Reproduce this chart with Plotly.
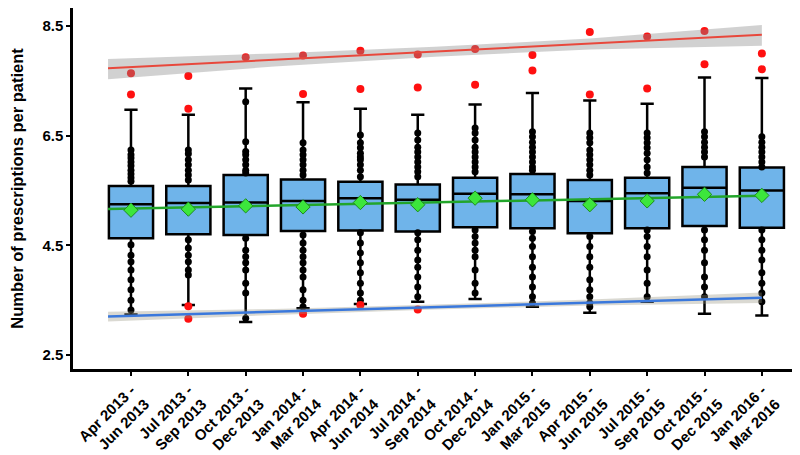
import plotly.graph_objects as go

# ---- data ----
period_start = ["Apr 2013", "Jul 2013", "Oct 2013", "Jan 2014", "Apr 2014", "Jul 2014",
                "Oct 2014", "Jan 2015", "Apr 2015", "Jul 2015", "Oct 2015", "Jan 2016"]
period_end = ["Jun 2013", "Sep 2013", "Dec 2013", "Mar 2014", "Jun 2014", "Sep 2014",
              "Dec 2014", "Mar 2015", "Jun 2015", "Sep 2015", "Dec 2015", "Mar 2016"]

q1 = [4.63, 4.70, 4.69, 4.76, 4.77, 4.75, 4.83, 4.81, 4.72, 4.81, 4.85, 4.82]
median = [5.25, 5.27, 5.28, 5.31, 5.36, 5.33, 5.44, 5.43, 5.31, 5.45, 5.55, 5.50]
q3 = [5.58, 5.58, 5.78, 5.70, 5.66, 5.61, 5.73, 5.80, 5.69, 5.73, 5.93, 5.92]
lower_whisker = [3.24, 3.41, 3.10, 3.35, 3.43, 3.47, 3.52, 3.38, 3.27, 3.47, 3.25, 3.22]
upper_whisker = [6.97, 6.88, 7.36, 7.11, 6.99, 6.88, 7.07, 7.28, 7.14, 7.08, 7.56, 7.55]
means = [5.14, 5.16, 5.22, 5.20, 5.28, 5.24, 5.36, 5.33, 5.24, 5.31, 5.43, 5.41]

upper_outliers = [[7.64, 7.25], [7.59, 6.99], [7.93], [7.96, 7.26], [8.05, 7.35], [7.98, 7.38],
                  [8.08, 7.43], [7.97, 7.69], [8.39, 7.25], [8.31, 7.36], [8.41, 7.80], [8.00, 7.71]]
lower_outliers = [[], [3.39, 3.16], [], [3.25], [3.41], [3.33], [], [], [], [], [], []]

upper_points = [
    [6.24, 6.15, 6.09, 6.02, 5.95, 5.87, 5.80, 5.73, 5.67],
    [6.24, 6.17, 6.06, 5.97, 5.87, 5.78, 5.69],
    [7.12, 6.39, 6.21, 6.15, 6.06, 5.97, 5.87, 5.82],
    [6.37, 6.24, 6.15, 6.06, 5.97, 5.87, 5.78],
    [6.51, 6.37, 6.28, 6.18, 6.11, 6.06, 5.97, 5.87, 5.75],
    [6.55, 6.42, 6.29, 6.20, 6.11, 6.02, 5.93, 5.84, 5.75],
    [6.64, 6.55, 6.42, 6.29, 6.20, 6.11, 6.02, 5.93, 5.84],
    [6.57, 6.48, 6.38, 6.29, 6.20, 6.11, 6.02, 5.93, 5.87],
    [6.55, 6.46, 6.37, 6.24, 6.15, 6.06, 5.97, 5.87, 5.78],
    [6.55, 6.46, 6.37, 6.28, 6.18, 6.06, 5.93, 5.82],
    [6.57, 6.48, 6.38, 6.29, 6.20, 6.11],
    [6.48, 6.38, 6.29, 6.20, 6.11, 6.02, 5.93],
]
lower_points = [
    [4.51, 4.32, 4.20, 4.05, 3.87, 3.69, 3.50, 3.32],
    [4.60, 4.45, 4.32, 4.20, 4.05, 3.96],
    [4.63, 4.41, 4.29, 4.18, 4.05, 3.81, 3.63, 3.17],
    [4.69, 4.54, 4.41, 4.29, 4.18, 4.05, 3.92, 3.69, 3.50, 3.38],
    [4.73, 4.54, 4.36, 4.18, 4.00, 3.81, 3.63, 3.50],
    [4.73, 4.60, 4.41, 4.23, 4.10, 3.92, 3.74, 3.56],
    [4.78, 4.66, 4.54, 4.41, 4.29, 4.05, 3.81, 3.63],
    [4.75, 4.63, 4.48, 4.29, 4.10, 3.92, 3.74, 3.56, 3.45],
    [4.66, 4.48, 4.29, 4.10, 3.87, 3.69, 3.56, 3.45, 3.38],
    [4.78, 4.66, 4.48, 4.29, 4.05, 3.81, 3.56],
    [4.78, 4.60, 4.41, 4.18, 3.92, 3.74, 3.56],
    [4.78, 4.60, 4.41, 4.23, 4.00, 3.81, 3.63, 3.47],
]

# trend lines (end points) and confidence bands
trend_x = [-0.4, 11.0]
upper_trend = [7.73, 8.34]
mean_trend = [5.16, 5.405]
lower_trend = [3.20, 3.545]
band_x = [-0.4, 2.5, 5.3, 8.0, 11.0]
upper_band_hi = [7.90, 8.00, 8.12, 8.27, 8.52]
upper_band_lo = [7.53, 7.76, 7.94, 8.07, 8.14]
lower_band_hi = [3.29, 3.34, 3.42, 3.51, 3.64]
lower_band_lo = [3.11, 3.23, 3.33, 3.40, 3.45]

# ---- figure ----
n = len(period_start)
xs = list(range(n))
labels = [f"{a} -<br>{b}" for a, b in zip(period_start, period_end)]

fig = go.Figure()

# boxes (box layer is always drawn beneath scatter layers)
fig.add_trace(go.Box(x=xs, q1=q1, median=median, q3=q3,
                     lowerfence=lower_whisker, upperfence=upper_whisker,
                     width=0.77, whiskerwidth=0.3,
                     fillcolor="#6FB4EA", line=dict(color="black", width=2.5),
                     boxpoints=False, hoverinfo="skip"))

# raw points (black)
px, py = [], []
for i in xs:
    for v in upper_points[i] + lower_points[i]:
        px.append(i)
        py.append(v)
fig.add_trace(go.Scatter(x=px, y=py, mode="markers",
                         marker=dict(color="black", size=7), hoverinfo="skip"))

# outliers (red)
ox, oy = [], []
for i in xs:
    for v in upper_outliers[i] + lower_outliers[i]:
        ox.append(i)
        oy.append(v)
fig.add_trace(go.Scatter(x=ox, y=oy, mode="markers",
                         marker=dict(color="#FF1010", size=8), hoverinfo="skip"))

# confidence bands
fig.add_trace(go.Scatter(x=band_x + band_x[::-1], y=upper_band_hi + upper_band_lo[::-1],
                         fill="toself", fillcolor="rgba(140,140,140,0.40)",
                         line=dict(width=0), mode="lines", hoverinfo="skip"))
fig.add_trace(go.Scatter(x=band_x + band_x[::-1], y=lower_band_hi + lower_band_lo[::-1],
                         fill="toself", fillcolor="rgba(150,145,125,0.35)",
                         line=dict(width=0), mode="lines", hoverinfo="skip"))

# trend lines
fig.add_trace(go.Scatter(x=trend_x, y=upper_trend, mode="lines",
                         line=dict(color="#E8483C", width=2), hoverinfo="skip"))
fig.add_trace(go.Scatter(x=trend_x, y=lower_trend, mode="lines",
                         line=dict(color="#3A78DC", width=2.5), hoverinfo="skip"))
fig.add_trace(go.Scatter(x=trend_x, y=mean_trend, mode="lines",
                         line=dict(color="#22A52A", width=2.5), hoverinfo="skip"))

# means
fig.add_trace(go.Scatter(x=xs, y=means, mode="markers",
                         marker=dict(symbol="diamond", color="#3CE63C", size=11,
                                     line=dict(color="#1E8A1E", width=1)),
                         hoverinfo="skip"))

font_family = "Liberation Sans, Arial, sans-serif"
fig.update_layout(
    width=800, height=455,
    margin=dict(l=65, r=8, t=0, b=94, autoexpand=False),
    plot_bgcolor="white", paper_bgcolor="white",
    showlegend=False,
    font=dict(family=font_family, color="black"),
)
fig.update_xaxes(
    range=[-1.011, 11.665], tickmode="array", tickvals=xs, ticktext=labels,
    tickangle=-45, tickfont=dict(size=15, weight="bold", family=font_family, color="black"),
    showline=True, linecolor="black", linewidth=2.5, showgrid=False, zeroline=False,
    ticks="outside", ticklen=4, tickwidth=1.5, tickcolor="black", automargin=False,
)
fig.update_yaxes(
    range=[2.244, 8.828], tickmode="array", tickvals=[2.5, 4.5, 6.5, 8.5],
    ticktext=["2.5", "4.5", "6.5", "8.5"],
    tickfont=dict(size=15, weight="bold", family=font_family, color="black"),
    title=dict(text="Number of prescriptions per patient", standoff=16,
               font=dict(size=16.5, weight="bold", family=font_family, color="black")),
    showline=True, linecolor="black", linewidth=2.5, showgrid=False, zeroline=False,
    ticks="outside", ticklen=4, tickwidth=1.5, tickcolor="black", automargin=False,
)

fig.write_html("out.html")
